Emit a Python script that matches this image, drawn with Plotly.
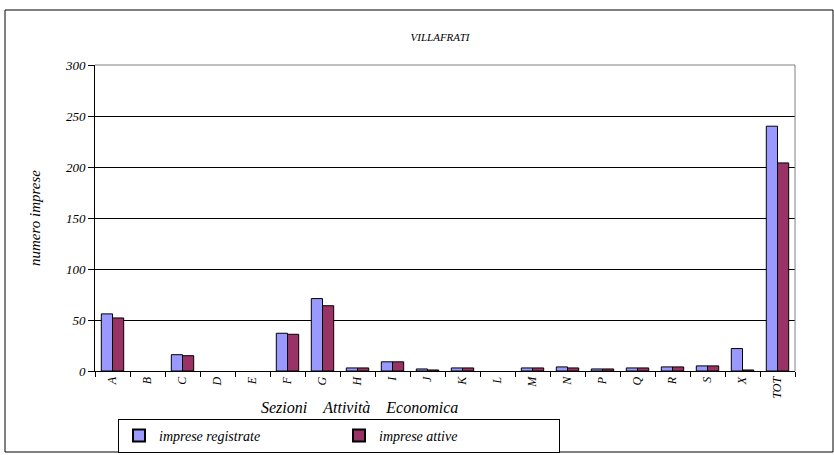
import plotly.graph_objects as go

# Sezioni di attività economica
sezioni = ["A", "B", "C", "D", "E", "F", "G", "H", "I", "J", "K", "L",
           "M", "N", "P", "Q", "R", "S", "X", "TOT"]
registrate = [56, 0, 16, 0, 0, 37, 71, 3, 9, 2, 3, 0, 3, 4, 2, 3, 4, 5, 22, 240]
attive = [52, 0, 15, 0, 0, 36, 64, 3, 9, 1, 3, 0, 3, 3, 2, 3, 4, 5, 1, 204]
y_ticks = [0, 50, 100, 150, 200, 250, 300]

FONT = "Liberation Serif"


def outline(values):
    # nessun contorno per le sezioni senza imprese
    return [1 if v > 0 else 0 for v in values]


fig = go.Figure()
fig.add_trace(go.Bar(
    x=sezioni, y=registrate, name="imprese registrate",
    marker=dict(color="#9999FF",
                line=dict(color="black", width=outline(registrate))),
))
fig.add_trace(go.Bar(
    x=sezioni, y=attive, name="imprese attive",
    marker=dict(color="#993366",
                line=dict(color="black", width=outline(attive))),
))

L, R, T, B = 95, 39, 65, 84
W, H = 834, 455
pw, ph = W - L - R, H - T - B


def px_x(p):
    return (p - L) / pw


def px_y(p):
    return (H - B - p) / ph


fig.update_layout(
    width=W, height=H,
    margin=dict(l=L, r=R, t=T, b=B, autoexpand=False),
    paper_bgcolor="white", plot_bgcolor="white",
    font=dict(family=FONT, size=12, color="black"),
    barmode="group", bargap=0.36, bargroupgap=0.0,
    showlegend=True,
    legend=dict(
        orientation="h", x=px_x(118), xanchor="left",
        y=px_y(419), yanchor="top",
        bordercolor="black", borderwidth=1,
        font=dict(family=FONT, size=14, style="italic"),
        entrywidth=175, entrywidthmode="pixels",
        itemsizing="constant", tracegroupgap=0,
    ),
    title=dict(
        text="VILLAFRATI", x=440 / W, xanchor="center",
        y=1 - 37 / H, yanchor="middle",
        font=dict(family=FONT, size=11, style="italic"),
    ),
    xaxis=dict(
        type="category", tickangle=-90, tickson="boundaries",
        ticks="outside", ticklen=5, tickcolor="black",
        showline=True, linecolor="black", linewidth=1,
        showgrid=False, automargin=False,
        tickfont=dict(family=FONT, size=12, style="italic"),
    ),
    yaxis=dict(
        range=[0, 300], tickvals=y_ticks,
        ticks="outside", ticklen=6, tickcolor="black",
        showline=True, linecolor="black", linewidth=1,
        showgrid=True, gridcolor="black", gridwidth=1,
        zeroline=False, automargin=False,
        tickfont=dict(family=FONT, size=13, style="italic"),
        title=dict(text="numero imprese", standoff=20,
                   font=dict(family=FONT, size=15, style="italic")),
    ),
)

# Bordo grigio dell'area del grafico (alto e destra)
fig.add_shape(type="line", xref="paper", yref="paper",
              x0=0, x1=1, y0=1, y1=1, line=dict(color="#808080", width=1))
fig.add_shape(type="line", xref="paper", yref="paper",
              x0=1, x1=1, y0=0, y1=1, line=dict(color="#808080", width=1))

# Cornice esterna del grafico
fig.add_shape(type="rect", xref="paper", yref="paper",
              x0=px_x(5), x1=px_x(833), y0=px_y(452), y1=px_y(10),
              line=dict(color="black", width=1), layer="below")

# Titolo asse x
fig.add_annotation(
    xref="paper", yref="paper", x=px_x(359), y=px_y(407),
    text="Sezioni&nbsp;&nbsp;&nbsp;&nbsp;Attività&nbsp;&nbsp;&nbsp;&nbsp;Economica",
    showarrow=False, xanchor="center", yanchor="middle",
    font=dict(family=FONT, size=16, style="italic"),
)

fig.write_html("out.html")
